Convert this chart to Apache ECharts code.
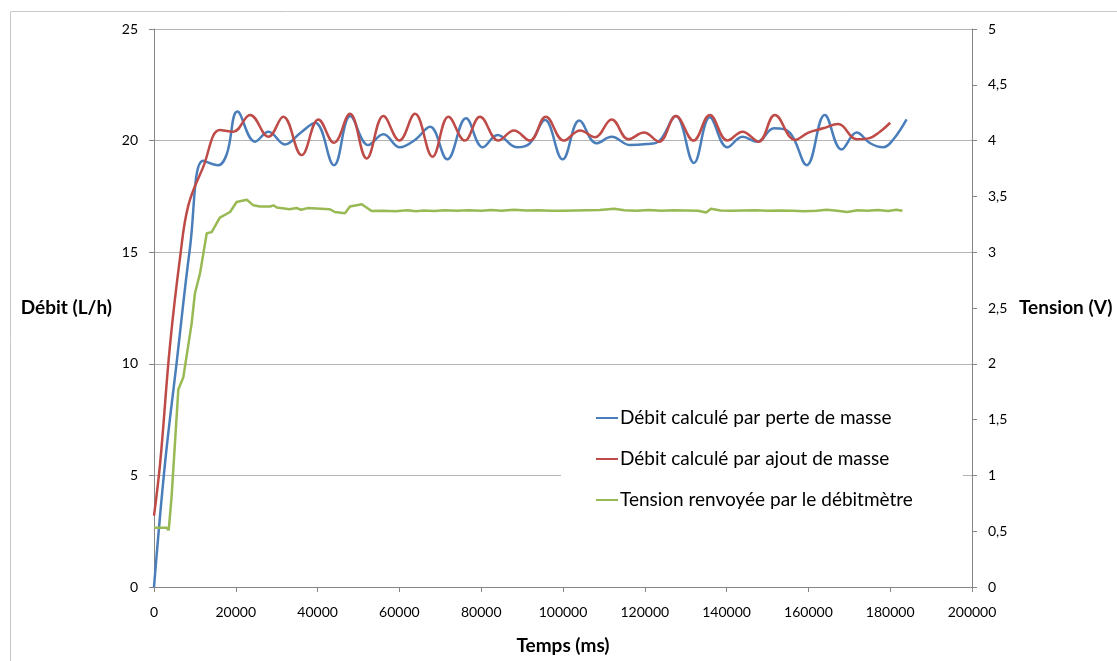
<!DOCTYPE html>
<html><head><meta charset="utf-8">
<script src="https://cdn.jsdelivr.net/npm/echarts@6/dist/echarts.min.js"></script>
<style>html,body{margin:0;padding:0;background:#fff;overflow:hidden}#c{width:1117px;height:661px}</style>
</head><body><div id="c"></div>
<script>
// Times in ms
const seriesNames = ['Débit calculé par perte de masse','Débit calculé par ajout de masse','Tension renvoyée par le débitmètre'];
const xTicks = [0,20000,40000,60000,80000,100000,120000,140000,160000,180000,200000];
const leftTicks = [0,5,10,15,20,25];
const rightTicks = ['0','0,5','1','1,5','2','2,5','3','3,5','4','4,5','5'];

const debitPerte = [[0,0],[2700,5.55],[5500,10],[8800,15.2],[12000,19.1],[15700,18.9],[17800,19.4],[20400,21.3],[24700,19.95],[28000,20.4],[32000,19.83],[35700,20.33],[39400,20.8],[44000,18.9],[48000,21.1],[52400,19.8],[56100,20.28],[60100,19.7],[63800,20.03],[67500,20.62],[71700,19.16],[76300,21.0],[80400,19.7],[84000,20.25],[88700,19.7],[91900,19.88],[95600,20.92],[99900,19.16],[104000,20.9],[108200,19.88],[111900,20.17],[116400,19.8],[120500,19.85],[123300,19.95],[127600,21.1],[132000,19.0],[135900,21.05],[140200,19.7],[143900,20.17],[147500,19.95],[151600,20.55],[155500,20.35],[159600,18.9],[164000,21.15],[168100,19.6],[171800,20.36],[175100,19.88],[178300,19.7],[180800,20.06],[184000,20.95]];

const debitAjout = [[0,3.2],[1500,5.55],[3900,10.8],[6400,14.8],[8400,17.1],[12000,18.8],[16100,20.47],[19400,20.4],[23500,21.15],[28000,20.17],[31600,21.07],[36100,19.35],[40200,20.95],[44000,19.9],[47900,21.2],[52000,19.2],[56100,21.1],[60000,20.0],[63800,21.2],[68100,19.28],[72000,21.07],[76000,20.0],[79700,21.07],[84200,20.0],[88000,20.45],[91900,20.0],[95800,21.07],[100200,20.0],[104200,20.45],[107800,20.15],[111900,20.95],[116000,20.06],[119800,20.36],[123500,19.95],[127600,21.1],[131900,20.0],[135900,21.15],[140200,20.0],[143900,20.4],[147800,19.95],[151800,21.15],[156700,20.03],[160000,20.36],[163600,20.55],[167300,20.74],[171800,20.06],[174700,20.1],[177500,20.4],[180000,20.8]];

const tension = [[0,0.53],[3100,0.53],[3600,0.51],[4300,0.81],[5950,1.77],[7170,1.88],[9200,2.36],[10000,2.63],[11250,2.81],[12900,3.17],[14100,3.18],[16100,3.31],[18600,3.36],[20200,3.45],[22700,3.47],[24300,3.42],[25900,3.41],[28400,3.41],[29200,3.42],[30000,3.40],[33200,3.385],[34800,3.396],[36000,3.38],[37500,3.395],[43000,3.385],[44200,3.36],[46700,3.35],[47900,3.41],[50800,3.43],[53200,3.37],[56000,3.372],[59000,3.368],[62000,3.375],[64000,3.366],[66000,3.374],[68500,3.37],[71000,3.375],[74000,3.372],[77000,3.376],[80000,3.372],[82500,3.378],[85000,3.372],[88000,3.38],[91000,3.374],[94000,3.376],[97000,3.372],[100000,3.372],[103000,3.374],[106000,3.376],[109000,3.378],[112500,3.39],[115000,3.376],[118000,3.372],[121000,3.378],[124000,3.372],[127000,3.376],[130000,3.374],[133000,3.372],[135000,3.355],[136200,3.39],[138500,3.374],[141000,3.372],[144000,3.374],[147000,3.376],[150000,3.372],[153000,3.374],[156000,3.372],[159000,3.368],[162000,3.372],[164500,3.38],[167000,3.372],[169500,3.36],[172000,3.375],[174500,3.372],[177000,3.378],[179500,3.37],[181500,3.38],[183000,3.372]];

const colors = ['#4a7ebb','#be4b48','#98b954'];
const FONT = 'Lato';
const chart = echarts.init(document.getElementById('c'), null, {renderer:'canvas', width:1117, height:661});
chart.setOption({
  animation:false,
  backgroundColor:'#fff',
  color: colors,
  graphic:[
    {type:'rect', shape:{x:10.5,y:11.5,width:1300,height:800}, style:{fill:null, stroke:'#c8c8c8', lineWidth:1}, silent:true, z:-1}
  ],
  grid:{left:154, right:145, top:29, bottom:74, containLabel:false, outerBoundsMode:'none'},
  legend:{
    orient:'vertical', left:561, top:392,
    backgroundColor:'#fff',
    padding:[16,50,16,35],
    itemWidth:22, itemHeight:2, icon:'rect', itemGap:21,
    textStyle:{fontFamily:FONT, fontSize:19, color:'#000', lineHeight:20, padding:[0,0,0,-3]},
    data: seriesNames
  },
  xAxis:{
    type:'value', min:0, max:200000, interval:20000,
    name:'Temps (ms)', nameLocation:'middle', nameGap:49,
    nameTextStyle:{fontFamily:FONT, fontSize:19, fontWeight:'bold', color:'#000'},
    axisLine:{show:true, lineStyle:{color:'#868686', width:1}},
    axisTick:{show:true, length:5, lineStyle:{color:'#868686'}},
    axisLabel:{fontFamily:FONT, fontSize:14, color:'#000', margin:18, formatter:v=>String(v)},
    splitLine:{show:false}
  },
  yAxis:[{
    type:'value', min:0, max:25, interval:5, position:'left',
    name:'Débit (L/h)', nameLocation:'middle', nameRotate:0, nameGap:42,
    nameTextStyle:{fontFamily:FONT, fontSize:19, fontWeight:'bold', color:'#000', align:'right'},
    axisLine:{show:true, lineStyle:{color:'#868686', width:1}},
    axisTick:{show:true, length:5, lineStyle:{color:'#868686'}},
    axisLabel:{fontFamily:FONT, fontSize:14, color:'#000', margin:16},
    splitLine:{show:true, lineStyle:{color:'#b3b3b3', width:1}}
  },{
    type:'value', min:0, max:5, interval:0.5, position:'right',
    name:'Tension (V)', nameLocation:'middle', nameRotate:0, nameGap:47,
    nameTextStyle:{fontFamily:FONT, fontSize:19, fontWeight:'bold', color:'#000', align:'left'},
    axisLine:{show:true, lineStyle:{color:'#868686', width:1}},
    axisTick:{show:true, length:5, lineStyle:{color:'#868686'}},
    axisLabel:{fontFamily:FONT, fontSize:14, color:'#000', margin:16, formatter:v=>rightTicks[Math.round(v*2)]},
    splitLine:{show:false}
  }],
  series:[
    {name:seriesNames[0], type:'line', yAxisIndex:0, data:debitPerte, smooth:0.4, showSymbol:false, lineStyle:{width:2.5, color:colors[0]}, itemStyle:{color:colors[0]}},
    {name:seriesNames[1], type:'line', yAxisIndex:0, data:debitAjout, smooth:0.4, showSymbol:false, lineStyle:{width:2.5, color:colors[1]}, itemStyle:{color:colors[1]}},
    {name:seriesNames[2], type:'line', yAxisIndex:1, data:tension, smooth:false, showSymbol:false, lineStyle:{width:2.5, color:colors[2]}, itemStyle:{color:colors[2]}}
  ]
});
</script>
</body></html>
